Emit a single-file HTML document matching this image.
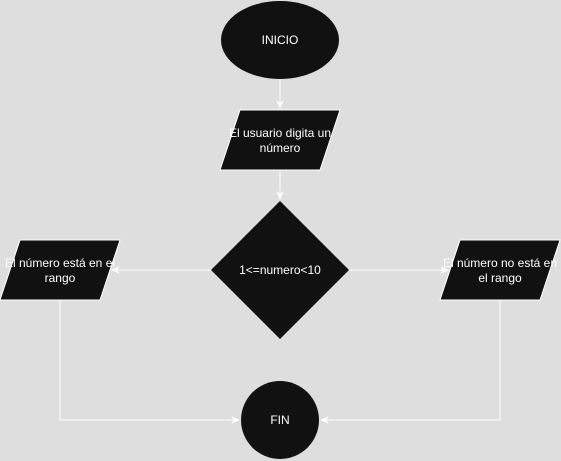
<!DOCTYPE html>
<html><head><style>body{margin:0;background:#dedede}svg{display:block}</style></head><body>
<svg width="561" height="461" viewBox="0 0 561 461" xmlns="http://www.w3.org/2000/svg" font-family="Liberation Sans, sans-serif" font-size="12">
<rect width="561" height="461" fill="#dedede"/>
<defs><marker id="a" markerWidth="10" markerHeight="10" refX="8" refY="5" orient="auto" markerUnits="userSpaceOnUse"><path d="M0,1 L9,5 L0,9 L3,5 Z" fill="#fff"/></marker></defs>
<g stroke="#fff" stroke-width="1" fill="none">
<line x1="280" y1="79" x2="280" y2="108" marker-end="url(#a)"/>
<line x1="280" y1="170" x2="280" y2="199" marker-end="url(#a)"/>
<line x1="211" y1="270" x2="112" y2="270" marker-end="url(#a)"/>
<line x1="349" y1="270" x2="448" y2="270" marker-end="url(#a)"/>
<polyline points="60,300 60,420 239,420" marker-end="url(#a)"/>
<polyline points="500,300 500,420 321,420" marker-end="url(#a)"/>
</g>
<g fill="#111" stroke="#fff" stroke-width="1">
<ellipse cx="280" cy="40" rx="59" ry="39" stroke="none"/>
<polygon points="240,110 340,110 320,170 220,170"/>
<polygon points="280,201 349,270 280,339 211,270" stroke="none"/>
<polygon points="20,240 120,240 100,300 0,300"/>
<polygon points="460,240 560,240 540,300 440,300"/>
<circle cx="280" cy="420" r="39" stroke="none"/>
</g>
<g fill="#fff" text-anchor="middle">
<text x="280" y="44">INICIO</text>
<text x="280" y="137">El usuario digita un</text>
<text x="280" y="152">número</text>
<text x="280" y="274">1&lt;=numero&lt;10</text>
<text x="60" y="267">El número está en el</text>
<text x="60" y="282">rango</text>
<text x="500" y="267">El número no está en</text>
<text x="500" y="282">el rango</text>
<text x="280" y="424">FIN</text>
</g>
</svg>
</body></html>
